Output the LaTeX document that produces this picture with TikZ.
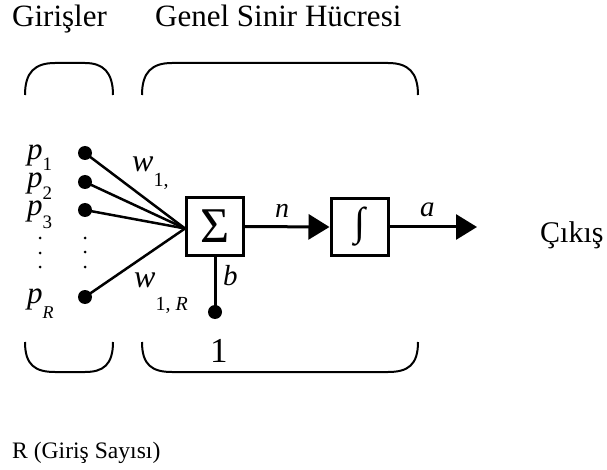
\documentclass[tikz,border=0pt]{standalone}
\usepackage{fontspec}
\setmainfont{Liberation Serif}
\usetikzlibrary{arrows.meta}
\newcommand\fs[1]{\fontsize{#1}{#1}\selectfont}
% italic symbol with a lowered subscript: #1 size, #2 letter, #3 drop, #4 sub size, #5 sub
\newcommand\isym[5]{{\fs{#1}\itshape #2\/}\raisebox{-#3}{\fs{#4}#5}}
\begin{document}
\begin{tikzpicture}[x=1pt,y=-1pt,
  lbl/.style={inner sep=0pt, anchor=base west},
  bigdot/.style={circle, fill=black, inner sep=0pt, minimum size=14pt},
  smalldot/.style={circle, fill=black, inner sep=0pt, minimum size=3pt},
  blockbox/.style={draw, line width=3pt, minimum width=57pt, minimum height=57pt, inner sep=0pt},
  inline/.style={line width=2.5pt},
  flow/.style={line width=3pt, -{Triangle[length=21pt,width=25pt]}},
  bracket/.style={line width=2pt}]
\useasboundingbox (0,0) rectangle (607,470);
% headers
\node[lbl] (hin) at (12,27) {\fs{31}Girişler};
\node[lbl] (hneuron) at (155,27) {\fs{31}Genel Sinir Hücresi};
\node[lbl] (hout) at (540,243) {\fs{30}Çıkış};
\node[lbl] (hcount) at (12,458) {\fs{23.6}R (Giriş Sayısı)};
% brackets
\draw[bracket] (25,95) .. controls (25,72) and (35,63) .. (55,63) -- (85,63) .. controls (103,63) and (113,72) .. (113,95);
\draw[bracket] (142,95) .. controls (142,72) and (152,63) .. (172,63) -- (388,63) .. controls (408,63) and (418,72) .. (418,95);
\draw[bracket] (25,342) .. controls (25,365) and (35,372) .. (55,372) -- (85,372) .. controls (103,372) and (113,365) .. (113,342);
\draw[bracket] (142,342) .. controls (142,365) and (152,372) .. (172,372) -- (388,372) .. controls (408,372) and (418,365) .. (418,342);
% blocks
\node[blockbox] (sum) at (215,226.5) {\fs{50}Σ};
\node[blockbox] (f) at (359.5,227) {\fs{40}\itshape ∫};
% inputs
\node[bigdot] (d1) at (85,153) {};
\node[bigdot] (d2) at (85,182) {};
\node[bigdot] (d3) at (85,210) {};
\node[bigdot] (dR) at (85,297) {};
\node[smalldot] (l1) at (40,238) {};
\node[smalldot] (l2) at (40,253) {};
\node[smalldot] (l3) at (40,267) {};
\node[smalldot] (r1) at (85,238) {};
\node[smalldot] (r2) at (85,252) {};
\node[smalldot] (r3) at (85,267) {};
\coordinate (conv) at ([yshift=-2pt]sum.west);
\foreach \d in {d1,d2,d3,dR} \draw[inline] (\d.center) -- (conv);
% input labels
\node[lbl] (p1) at (27,160) {\isym{31}{p}{11pt}{19}{1}};
\node[lbl] (p2) at (27,188) {\isym{31}{p}{12pt}{19}{2}};
\node[lbl] (p3) at (27,216) {\isym{31}{p}{13pt}{19}{3}};
\node[lbl] (pR) at (27,303) {\isym{31}{p}{15pt}{18}{\itshape R}};
\node[lbl] (w1) at (132,172) {\isym{32}{w}{15pt}{20}{1,}};
\node[lbl] (wR) at (134,287) {\isym{32}{w}{23pt}{20}{1, \itshape R}};
% bias
\node[bigdot] (bdot) at (215,312) {};
\draw[line width=3pt] (sum.south) -- (bdot.center);
\node[lbl] (blab) at (223,285) {\fs{29}\itshape b};
\node[lbl] (one) at (210,362) {\fs{35}1};
% flow
\draw[flow] (sum.east) -- (f.west);
\node[lbl] (nlab) at (275,218) {\fs{28}\itshape n};
\coordinate (out) at (477,227);
\draw[flow] (f.east) -- (out);
\node[lbl] (alab) at (420,217) {\fs{29}\itshape a};
\end{tikzpicture}
\end{document}
